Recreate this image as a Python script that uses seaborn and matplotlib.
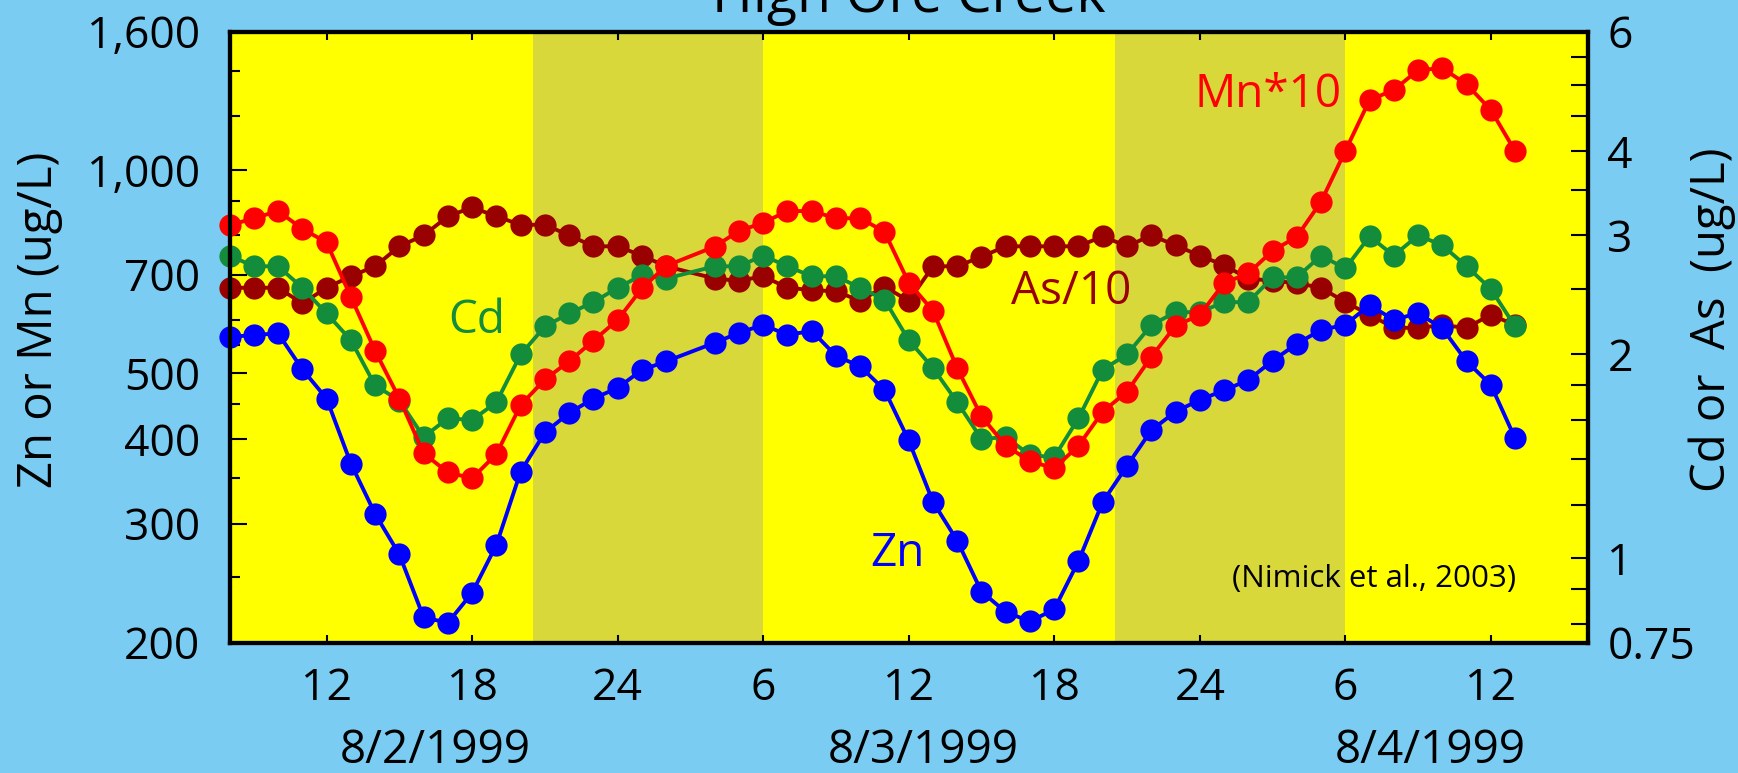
import matplotlib
matplotlib.use('Agg')
import matplotlib.pyplot as plt
import seaborn as sns
from matplotlib.ticker import FixedLocator, FixedFormatter, NullFormatter

# Hours since 8/2/1999 00:00 (no sample at 03:00 on 8/3)
hours = list(range(8, 27)) + list(range(28, 62))

# Zn and Mn*10 (ug/L), left axis
zn = [566, 570, 573, 507, 459, 368, 310, 270, 218, 214, 237, 279, 358, 409, 437, 459,
      476, 506, 521, 555, 574, 590, 570, 578, 531, 512, 473, 398, 323, 283, 238, 222,
      215, 224, 264, 323, 365, 412, 439, 457, 472, 489, 522, 553, 580, 590, 631, 600,
      614, 583, 521, 481, 401]
mn10 = [828, 848, 869, 818, 781, 649, 540, 459, 381, 357, 350, 380, 449, 490, 521, 559,
        600, 668, 721, 770, 812, 835, 869, 869, 848, 848, 810, 681, 619, 509, 432, 391,
        371, 362, 391, 439, 470, 529, 588, 610, 680, 703, 759, 796, 897, 1066, 1268, 1312,
        1404, 1413, 1338, 1226, 1066]

# Cd and As/10 (ug/L), right axis
cd = [2.80, 2.70, 2.70, 2.51, 2.30, 2.10, 1.80, 1.71, 1.51, 1.61, 1.60, 1.70, 2.00, 2.20,
      2.30, 2.39, 2.51, 2.62, 2.59, 2.70, 2.70, 2.80, 2.70, 2.61, 2.61, 2.51, 2.41, 2.10,
      1.91, 1.70, 1.50, 1.51, 1.42, 1.41, 1.61, 1.90, 2.00, 2.21, 2.31, 2.31, 2.39, 2.39,
      2.60, 2.60, 2.80, 2.68, 2.99, 2.80, 3.00, 2.90, 2.70, 2.50, 2.20]
as10 = [2.51, 2.51, 2.51, 2.38, 2.51, 2.61, 2.70, 2.89, 3.00, 3.20, 3.30, 3.20, 3.11, 3.11,
        3.00, 2.89, 2.89, 2.80, 2.70, 2.59, 2.57, 2.61, 2.51, 2.49, 2.48, 2.40, 2.52, 2.40,
        2.70, 2.70, 2.79, 2.89, 2.89, 2.89, 2.89, 2.99, 2.89, 3.00, 2.90, 2.80, 2.71, 2.59,
        2.57, 2.55, 2.51, 2.39, 2.29, 2.19, 2.19, 2.21, 2.19, 2.29, 2.21]

# night periods (sunset to sunrise)
nights = [(20.5, 30), (44.5, 54)]

x_ticks = [12, 18, 24, 30, 36, 42, 48, 54, 60]
x_labels = ['12', '18', '24', '6', '12', '18', '24', '6', '12']
midnights = [24, 48]
dates = ['8/2/1999', '8/3/1999', '8/4/1999']
date_pos = [16.5, 36.6, 57.5]

left_ticks = [200, 300, 400, 500, 700, 1000, 1600]
left_labels = ['200', '300', '400', '500', '700', '1,000', '1,600']
left_minor = [250, 350, 450, 550, 600, 800, 900, 1200, 1400]
right_ticks = [0.75, 1, 2, 3, 4, 6]
right_labels = ['0.75', '1', '2', '3', '4', '6']
right_minor = [0.8, 0.9, 1.2, 1.4, 1.6, 1.8, 2.5, 3.5, 4.5, 5, 5.5]

BG = '#7ACCF2'
DAY = '#FFFF00'
NIGHT = '#D9D83A'
C_ZN = '#0000FF'
C_MN = '#FF0000'
C_CD = '#138D3B'
C_AS = '#990000'

sns.set_theme(style='white')
plt.rcParams['font.family'] = ['Open Sans', 'DejaVu Sans']

fig = plt.figure(figsize=(17.38, 7.73), dpi=100, facecolor=BG)
ax = fig.add_axes([0.1321, 0.1686, 0.7815, 0.7904])
ax.set_facecolor(DAY)
for a, b in nights:
    ax.axvspan(a, b, color=NIGHT, lw=0, zorder=0)

# Cd / As on the base axes (right scale), Zn / Mn on the twin (left scale, drawn on top)
ax2 = ax.twinx()

line_kw = dict(marker='o', markersize=16, linewidth=2.8, markeredgewidth=0, clip_on=False)
sns.lineplot(x=hours, y=as10, color=C_AS, markerfacecolor=C_AS, ax=ax, **line_kw)
sns.lineplot(x=hours, y=cd, color=C_CD, markerfacecolor=C_CD, ax=ax, **line_kw)
sns.lineplot(x=hours, y=mn10, color=C_MN, markerfacecolor=C_MN, ax=ax2, **line_kw)
sns.lineplot(x=hours, y=zn, color=C_ZN, markerfacecolor=C_ZN, ax=ax2, **line_kw)

ax.set_xlim(8, 64)
ax.set_yscale('log')
ax.set_ylim(0.75, 6)
ax2.set_yscale('log')
ax2.set_ylim(200, 1600)

ax2.yaxis.tick_left()
ax2.yaxis.set_label_position('left')
ax.yaxis.tick_right()
ax.yaxis.set_label_position('right')

ax2.yaxis.set_major_locator(FixedLocator(left_ticks))
ax2.yaxis.set_major_formatter(FixedFormatter(left_labels))
ax2.yaxis.set_minor_locator(FixedLocator(left_minor))
ax2.yaxis.set_minor_formatter(NullFormatter())
ax.yaxis.set_major_locator(FixedLocator(right_ticks))
ax.yaxis.set_major_formatter(FixedFormatter(right_labels))
ax.yaxis.set_minor_locator(FixedLocator(right_minor))
ax.yaxis.set_minor_formatter(NullFormatter())
ax.xaxis.set_major_locator(FixedLocator(x_ticks))
ax.xaxis.set_major_formatter(FixedFormatter(x_labels))
ax.xaxis.set_minor_locator(FixedLocator(midnights))

ax2.tick_params(axis='y', which='major', direction='in', length=12, width=1.5,
                labelsize=32, pad=21, left=True, right=False, colors='black')
ax2.tick_params(axis='y', which='minor', direction='in', length=7, width=1.5,
                left=True, right=False, color='black')
ax.tick_params(axis='y', which='both', direction='in', length=12, width=1.5,
               labelsize=32, pad=14, left=False, right=True, colors='black')
ax.tick_params(axis='x', which='major', direction='in', length=6, width=1.5,
               labelsize=32, pad=17, top=True, bottom=True, colors='black')
ax.tick_params(axis='x', which='minor', direction='in', length=26, width=1.5,
               top=True, bottom=True, color='black')

for a in (ax, ax2):
    for s in a.spines.values():
        s.set_color('black')
        s.set_linewidth(3)
        s.set_visible(True)

ax.set_xlabel('')
ax2.set_ylabel('Zn or Mn (ug/L)', fontsize=34, color='black')
ax2.yaxis.set_label_coords(-0.1226, 0.528)
ax.set_ylabel('Cd or  As  (ug/L)', fontsize=34, color='black')
ax.yaxis.set_label_coords(1.0738, 0.528)

for d, xp in zip(dates, date_pos):
    ax.text(xp, -0.178, d, transform=ax.get_xaxis_transform(), ha='center', va='center',
            fontsize=33, color='black')

ax2.text(50.8, 1290, 'Mn*10', color=C_MN, fontsize=33, ha='center', va='center')
ax2.text(42.7, 660, 'As/10', color=C_AS, fontsize=33, ha='center', va='center')
ax2.text(18.2, 598, 'Cd', color=C_CD, fontsize=33, ha='center', va='center')
ax2.text(35.55, 270, 'Zn', color=C_ZN, fontsize=33, ha='center', va='center')
ax2.text(55.2, 248, '(Nimick et al., 2003)', color='black', fontsize=22.5, ha='center', va='center')

fig.text(0.5228, 0.9845, 'High Ore Creek', ha='center', va='baseline', fontsize=40, color='black')

fig.savefig('out.png', dpi=100, facecolor=BG)
